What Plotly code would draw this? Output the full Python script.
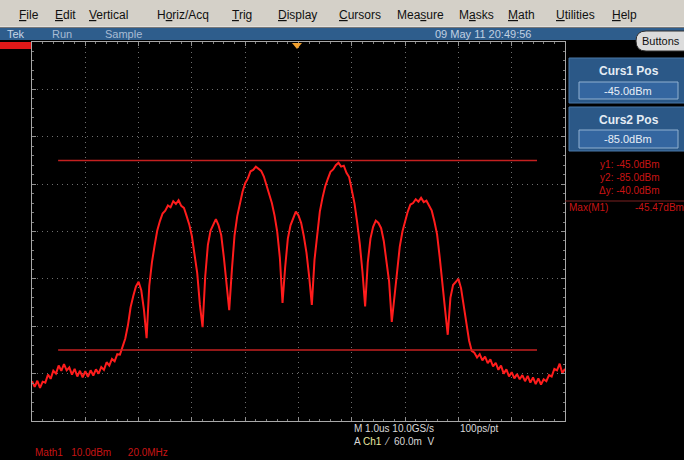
import plotly.graph_objects as go

# ---------------- data ----------------
freq_mhz = list(range(-100, 101))  # 1 MHz steps, 20 MHz/div, 10 div
level_dbm = [
    -91.6, -92.8, -91.5, -93.0, -91.7, -91.9, -90.2, -91.1, -89.4, -90.0,
    -88.3, -89.4, -88.0, -89.3, -88.7, -90.2, -89.0, -90.6, -89.4, -90.8,
    -89.5, -90.7, -89.3, -90.4, -89.1, -90.0, -88.6, -89.2, -87.6, -88.3,
    -86.9, -87.4, -85.9, -86.0, -84.3, -82.6, -79.8, -76.0, -73.6, -71.6,
    -70.6, -72.4, -76.5, -82.5, -71.5, -66.5, -63.0, -59.8, -57.8, -56.2,
    -55.6, -54.5, -54.9, -53.6, -54.2, -53.4, -54.6, -55.0, -56.7, -58.5,
    -61.0, -64.6, -68.8, -75.5, -80.2, -69.5, -62.8, -59.8, -58.4, -57.4,
    -58.7, -60.8, -65.5, -71.3, -76.6, -68.1, -60.8, -56.8, -53.8, -51.6,
    -49.8, -48.8, -47.3, -47.0, -46.3, -46.8, -47.2, -48.4, -50.1, -52.0,
    -54.0, -56.6, -60.0, -65.5, -75.1, -67.5, -61.5, -58.7, -57.0, -55.8,
    -56.6, -58.2, -61.0, -64.5, -69.5, -75.5, -66.0, -60.2, -55.8, -52.9,
    -50.5, -48.9, -47.4, -46.9, -46.0, -45.5, -46.3, -46.1, -47.6, -48.5,
    -51.3, -54.0, -58.0, -62.6, -68.5, -75.8, -66.5, -61.5, -59.0, -57.7,
    -58.2, -59.3, -62.0, -65.8, -70.6, -79.1, -73.5, -68.5, -63.2, -60.0,
    -57.6, -55.8, -54.3, -54.0, -53.2, -53.7, -52.9, -53.8, -53.5, -54.6,
    -55.6, -57.9, -60.6, -65.5, -71.5, -76.5, -81.8, -74.0, -71.3, -70.6,
    -70.0, -72.0, -75.5, -79.6, -83.0, -85.2, -85.6, -86.6, -85.9, -87.2,
    -86.4, -87.8, -87.0, -88.5, -87.7, -89.2, -88.3, -90.0, -89.1, -90.6,
    -89.7, -91.0, -90.1, -91.2, -90.3, -91.6, -90.5, -91.9, -90.8, -92.2,
    -91.0, -92.3, -91.2, -91.6, -90.3, -90.6, -89.0, -89.3, -87.9, -89.9,
    -89.0,
]
cursor_levels = [-45.0, -85.0]
cursor_span = [-90.2, 89.5]
cursor_readout = ["y1: -45.0dBm", "y2: -85.0dBm", "Δy: -40.0dBm"]

menu_items = ["<u>F</u>ile", "<u>E</u>dit", "<u>V</u>ertical", "H<u>o</u>riz/Acq",
              "<u>T</u>rig", "<u>D</u>isplay", "<u>C</u>ursors", "Mea<u>s</u>ure",
              "M<u>a</u>sks", "<u>M</u>ath", "<u>U</u>tilities", "<u>H</u>elp"]
menu_x = [17, 53, 87, 155, 230, 276, 337, 395, 457, 506, 554, 610]

# ---------------- geometry helpers (pixel -> paper) ----------------
W, H = 684, 460
L, R, T, B = 32, 565, 42, 421


def px(x):
    return (x - L) / (R - L)


def py(y):
    return (B - y) / (B - T)


shapes = []
ann = []


def rect(x0, y0, x1, y1, fill, line=None, lw=0, layer="above"):
    shapes.append(dict(type="rect", xref="paper", yref="paper",
                       x0=px(x0), x1=px(x1), y0=py(y1), y1=py(y0),
                       fillcolor=fill, line=dict(color=line or fill, width=lw),
                       layer=layer))


def hline(x0, x1, y, color, w=1):
    shapes.append(dict(type="line", xref="paper", yref="paper",
                       x0=px(x0), x1=px(x1), y0=py(y), y1=py(y),
                       line=dict(color=color, width=w)))


def text(x, y, s, size=11, color="#000", xanchor="left", family="Liberation Sans", bold=False,
         align="left"):
    if bold:
        s = "<b>" + s + "</b>"
    ann.append(dict(x=px(x), y=py(y), xref="paper", yref="paper", text=s,
                    showarrow=False, xanchor=xanchor, yanchor="middle", align=align,
                    font=dict(size=size, color=color, family=family)))


# menu bar
rect(-5, -2, 690, 27, "#d4d0c8")
hline(-5, 690, 27, "#f0f0f0", 1)
for s, x in zip(menu_items, menu_x):
    text(x, 15, s, size=12, color="#101010")

# status bar
rect(-5, 28, 690, 40, "#2e5d8c")
text(5, 34, "Tek", 11, "#c8d6e6")
text(50, 34, "Run", 11, "#a8bcd4")
text(103, 34, "Sample", 11, "#a8bcd4")
text(483, 34, "09 May 11 20:49:56", 11, "#c0d0e2", xanchor="center")

# Buttons pill
x0b, x1b, y0b, y1b = 636, 690, 31, 51
r = 10
path = (f"M {px(x0b + r)},{py(y0b)} L {px(x1b)},{py(y0b)} L {px(x1b)},{py(y1b)} "
        f"L {px(x0b + r)},{py(y1b)} Q {px(x0b)},{py(y1b)} {px(x0b)},{py((y0b + y1b) / 2)} "
        f"Q {px(x0b)},{py(y0b)} {px(x0b + r)},{py(y0b)} Z")
shapes.append(dict(type="path", xref="paper", yref="paper", path=path,
                   fillcolor="#dcdcdc", line=dict(color="#303030", width=1)))
text(661, 41, "Buttons", 11, "#101010", xanchor="center")

# M1 tag and trigger marker
rect(0, 42, 31, 49, "#e01818")
tx = 297
shapes.append(dict(type="path", xref="paper", yref="paper",
                   path=f"M {px(tx - 5)},{py(43)} L {px(tx + 5)},{py(43)} L {px(tx)},{py(49)} Z",
                   fillcolor="#f0a030", line=dict(color="#f0a030", width=0)))

# cursor boxes
for (yb0, yb1, fy0, fy1, title, val) in [(58, 103, 82, 99, "Curs1 Pos", "-45.0dBm"),
                                          (107, 151, 130, 148, "Curs2 Pos", "-85.0dBm")]:
    rect(569, yb0, 690, yb1, "#2b5887", "#4a78a8", 1)
    rect(579, fy0, 678, fy1, "#3466a0", "#90b0d0", 1)
    text(629, yb0 + 13, title, 12, "#e4ecf4", xanchor="center", bold=True)
    text(628, (fy0 + fy1) / 2, val, 11, "#e8eef6", xanchor="center")

red_txt = "#c81414"
text(662, 177, "<br>".join(cursor_readout), 10, red_txt, xanchor="right", align="right")
hline(565, 690, 201, "#7a2020", 1)
text(567, 208, "Max(M1)", 10, red_txt)
text(686, 208, "-45.47dBm", 10, red_txt, xanchor="right")

# bottom readouts
text(352, 428, "M 1.0us 10.0GS/s", 10, "#d8d8d8")
text(458, 428, "100ps/pt", 10, "#d8d8d8")
text(352, 441, "A <span style='color:#e8e8a0'>Ch1</span>  ⁄  60.0m  V", 10, "#d8d8d8")
text(33, 452, "Math1   10.0dBm      20.0MHz", 10, red_txt)

# ---------------- figure ----------------
fig = go.Figure()
fig.add_trace(go.Scatter(x=freq_mhz, y=level_dbm, mode="lines",
                         line=dict(color="#ff1c1c", width=2), hoverinfo="skip"))
for lv in cursor_levels:
    fig.add_trace(go.Scatter(x=cursor_span, y=[lv, lv], mode="lines",
                             line=dict(color="#c42020", width=1.5), hoverinfo="skip"))

grid_col = "#6e6e6e"
axis_common = dict(showticklabels=False, showline=True, linecolor="#a8a8a8", linewidth=1,
                   mirror="allticks", showgrid=True, gridcolor=grid_col, griddash="1px,4px",
                   gridwidth=1, zeroline=False, ticks="inside", ticklen=4, tickcolor="#909090",
                   fixedrange=True)
fig.update_xaxes(range=[-100, 100], dtick=20, tick0=-100,
                 minor=dict(ticks="inside", ticklen=2, dtick=4, tickcolor="#808080", showgrid=False),
                 **axis_common)
fig.update_yaxes(range=[-100, -20], dtick=10, tick0=-100,
                 minor=dict(ticks="inside", ticklen=2, dtick=2, tickcolor="#808080", showgrid=False),
                 **axis_common)

fig.update_layout(width=W, height=H, margin=dict(l=L, r=W - R, t=T, b=H - B),
                  paper_bgcolor="#000000", plot_bgcolor="#000000", showlegend=False,
                  shapes=shapes, annotations=ann)
fig.write_html("out.html")
